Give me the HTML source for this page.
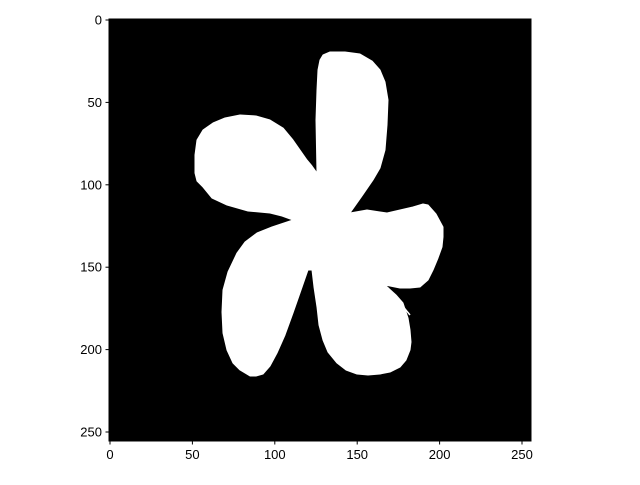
<!DOCTYPE html>
<html><head><meta charset="utf-8"><style>body{margin:0;background:#fff}svg text{font-family:"Liberation Sans","DejaVu Sans",sans-serif;font-size:13px;fill:#000}</style></head>
<body>
<svg width="640" height="480" xmlns="http://www.w3.org/2000/svg">
<rect x="109" y="19" width="422" height="422" fill="#000"/>
<polygon fill="#fff" stroke="#fff" stroke-width="1" stroke-linejoin="round" points="317,173 316,120 317,90 318,70 320,60 323,55 330,52 345,52 360,54 372,61 380,70 385,82 388,100 387,125 385,150 380,168 373,180 362,196 350,213 367,210 380,212 387,213 400,210 413,207 423,204 428,205 436,214 443,227 443,237 442,247 438,258 433,270 428,280 420,287 410,288 400,288 385,285 396,295 403,303 408,318 410,330 411,342 410,350 406,360 400,367 390,372 380,374 368,375 357,374 346,370 337,363 328,352 323,340 319,325 317,307 314,287 312,270 308,270 300,293 293,313 285,335 277,353 270,366 263,374 256,376 250,376 240,370 233,363 227,350 223,333 222,312 223,290 228,272 237,253 245,242 257,233 272,227 293,220 282,216 270,213 248,211 227,205 212,198 203,187 197,181 195,173 195,155 197,140 203,130 213,123 225,118 240,115 256,116 270,120 283,128 293,140 300,150 307,160 312,166"/>
<line x1="387" y1="287" x2="410" y2="315" stroke="#fff" stroke-width="1.5"/>
<g id="axes"></g>
</svg>
<script>
const xTicks=[0,50,100,150,200,250];
const yTicks=[0,50,100,150,200,250];
const g=document.getElementById('axes');
const NS='http://www.w3.org/2000/svg';
const sx=v=>110+v*1.648, sy=v=>20+v*1.648;
function mk(t,a){const e=document.createElementNS(NS,t);for(const k in a)e.setAttribute(k,a[k]);g.appendChild(e);return e;}
xTicks.forEach(v=>{
 const l=mk('line',{x1:sx(v),x2:sx(v),y1:441,y2:444.5,stroke:'#000'});
 
 
 const t=mk('text',{x:sx(v),y:459,'text-anchor':'middle'});t.textContent=v;
 
 
});
yTicks.forEach(v=>{
 const l=mk('line',{x1:105.5,x2:109,y1:sy(v),y2:sy(v),stroke:'#000'});
 
 
 const t=mk('text',{x:102,y:sy(v)+4.5,'text-anchor':'end'});t.textContent=v;
 
 
});
const f=mk('rect',{x:109,y:19,width:422,height:422,fill:'none',stroke:'#000'});


</script>
</body></html>
